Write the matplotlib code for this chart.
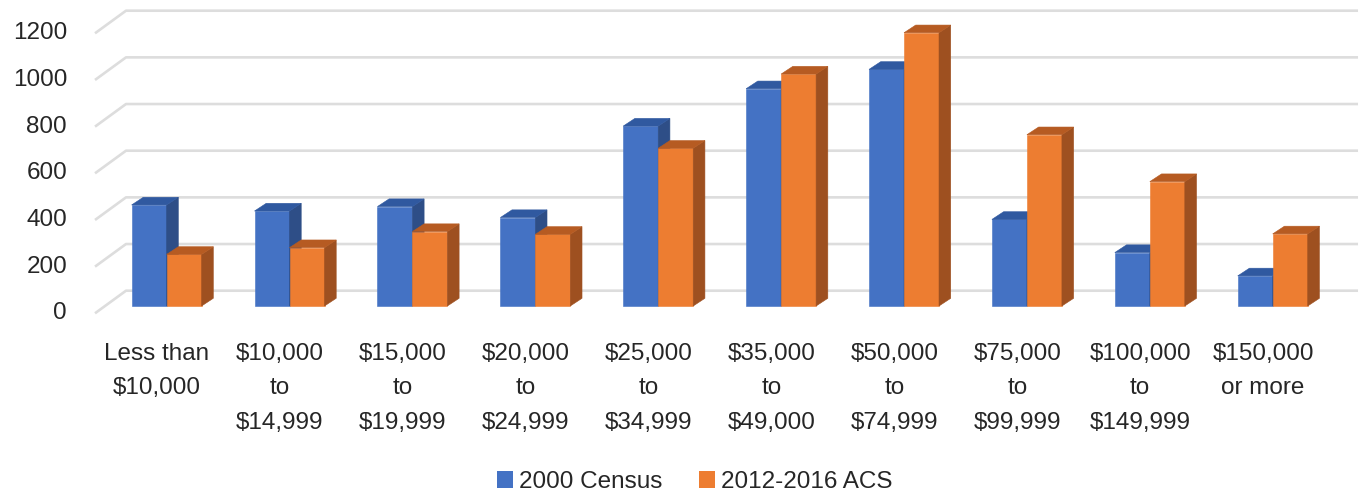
import numpy as np
import matplotlib
matplotlib.use("Agg")
from matplotlib import pyplot as plt
from matplotlib.patches import Polygon, Patch

# household income distribution
categories = ["Less than\n$10,000", "$10,000\nto\n$14,999", "$15,000\nto\n$19,999",
              "$20,000\nto\n$24,999", "$25,000\nto\n$34,999", "$35,000\nto\n$49,000",
              "$50,000\nto\n$74,999", "$75,000\nto\n$99,999", "$100,000\nto\n$149,999",
              "$150,000\nor more"]
census_2000 = [433, 407, 426, 379, 771, 931, 1014, 371, 229, 129]
acs_2012_2016 = [221, 250, 319, 307, 676, 994, 1171, 734, 533, 309]
yticks = [0, 200, 400, 600, 800, 1000, 1200]
series_names = ["2000 Census", "2012-2016 ACS"]

plt.rcParams['font.family'] = ['Liberation Sans', 'DejaVu Sans']
TXT = '#262626'
FS = 17.5

fig = plt.figure(figsize=(13.59, 4.95), dpi=100)
ax = fig.add_axes([0, 0, 1, 1])
ax.set_xlim(-1.3556, 9.702)
ax.set_ylim(-810, 1311.4)
ax.axis('off')

# pixel -> data helpers for the fake 3d look
px_x = (9.702 + 1.3556) / 1359.0
px_y = (1311.4 + 810) / 495.0

W = 35 * px_x          # bar front width
DX = 11.7 * px_x       # bar depth, horizontal
DY = 7.7 * px_y        # bar depth, vertical
front_y = -7.3 * px_y  # floor front edge relative to bar plane
back_y = 15.3 * px_y   # back wall relative to bar plane
left_front = -71.6 * px_x
left_back = -40.6 * px_x
right_end = 1191.4 * px_x

# gridlines: slanted left wall part + back wall
for v in yticks:
    ax.plot([left_front, left_back, right_end], [v + front_y, v + back_y, v + back_y],
            color='#DDDDDD', lw=1.9, solid_capstyle='butt', zorder=1)
    ax.text(-99.6 * px_x, v + front_y, str(v), ha='right', va='center',
            fontsize=FS, color=TXT)

x = np.arange(len(categories))


def draw_bars(lefts, heights, front, side, top):
    ax.bar(lefts, heights, width=W, align='edge', color=front,
           edgecolor=front, linewidth=0.4, zorder=3)
    for L, h in zip(lefts, heights):
        R = L + W
        ax.add_patch(Polygon([(R, 0), (R + DX, DY), (R + DX, h + DY), (R, h)],
                             closed=True, facecolor=side, edgecolor=side,
                             linewidth=0.4, zorder=3))
        ax.add_patch(Polygon([(L, h), (L + DX, h + DY), (R + DX, h + DY), (R, h)],
                             closed=True, facecolor=top, edgecolor=top,
                             linewidth=0.4, zorder=3))


draw_bars(x - W, census_2000, '#4472C4', '#2E4E87', '#3059A0')
draw_bars(x, acs_2012_2016, '#ED7D31', '#9E5020', '#B65B22')

# category labels, one text per line
for i, lab in enumerate(categories):
    for j, line in enumerate(lab.split('\n')):
        ax.text(i - 9.6 * px_x, -(48 + 34.3 * j) * px_y, line, ha='center', va='center',
                fontsize=FS, color=TXT)

handles = [Patch(facecolor='#4472C4', label=series_names[0]),
           Patch(facecolor='#ED7D31', label=series_names[1])]
fig.legend(handles=handles, loc='center', bbox_to_anchor=(695 / 1359, 13 / 495),
           ncol=2, frameon=False, fontsize=FS, handlelength=0.66, handleheight=0.66,
           handletextpad=0.25, columnspacing=1.5, labelcolor=TXT)

fig.savefig('out.png', dpi=100)
